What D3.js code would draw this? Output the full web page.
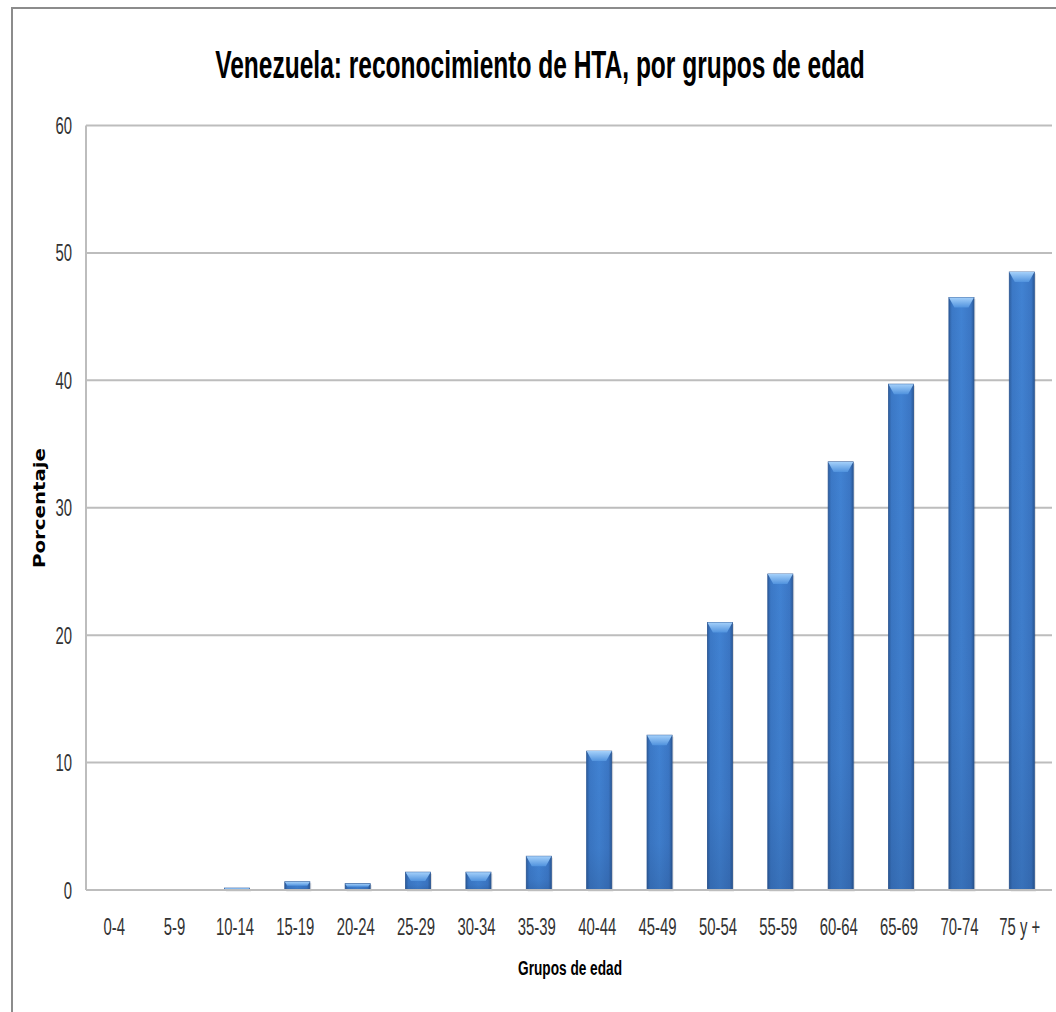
<!DOCTYPE html>
<html>
<head>
<meta charset="utf-8">
<script src="https://cdn.jsdelivr.net/npm/d3@7"></script>
<style>
  html, body { margin: 0; padding: 0; background: #fff; }
  svg { display: block; }
</style>
</head>
<body>
<svg id="chart" width="1056" height="1012"></svg>
<script>
const categories = ["0-4","5-9","10-14","15-19","20-24","25-29","30-34","35-39","40-44","45-49","50-54","55-59","60-64","65-69","70-74","75 y +"];
const values = [0, 0, 0.15, 0.65, 0.5, 1.4, 1.4, 2.65, 10.9, 12.15, 21.0, 24.8, 33.6, 39.7, 46.5, 48.5];
const yTicks = [0, 10, 20, 30, 40, 50, 60];
const titleText = "Venezuela: reconocimiento de HTA, por grupos de edad";
const xTitle = "Grupos de edad";
const yTitle = "Porcentaje";

const svg = d3.select("#chart");
const plot = {left: 86, right: 1052, top: 125.5, bottom: 890};

// defs
const defs = svg.append("defs");
const gH = defs.append("linearGradient").attr("id", "barH").attr("x1", 0).attr("x2", 1).attr("y1", 0).attr("y2", 0);
gH.append("stop").attr("offset", "0%").attr("stop-color", "#2d5e9f");
gH.append("stop").attr("offset", "12%").attr("stop-color", "#3b78c6");
gH.append("stop").attr("offset", "50%").attr("stop-color", "#4182d2");
gH.append("stop").attr("offset", "88%").attr("stop-color", "#3b76c4");
gH.append("stop").attr("offset", "100%").attr("stop-color", "#2b5a98");
const gV = defs.append("linearGradient").attr("id", "barV").attr("x1", 0).attr("x2", 0).attr("y1", 0).attr("y2", 1);
gV.append("stop").attr("offset", "0%").attr("stop-color", "#1e3f70").attr("stop-opacity", 0);
gV.append("stop").attr("offset", "70%").attr("stop-color", "#1e3f70").attr("stop-opacity", 0.08);
gV.append("stop").attr("offset", "100%").attr("stop-color", "#1e3f70").attr("stop-opacity", 0.25);
const gTop = defs.append("linearGradient").attr("id", "bevel").attr("x1", 0).attr("x2", 0).attr("y1", 0).attr("y2", 1);
gTop.append("stop").attr("offset", "0%").attr("stop-color", "#a4d0fa");
gTop.append("stop").attr("offset", "100%").attr("stop-color", "#5193de");

// outer border
svg.append("rect").attr("x", 12).attr("y", 8).attr("width", 1200).attr("height", 1200)
  .attr("fill", "none").attr("stroke", "#8c8c8c").attr("stroke-width", 2);

const x = d3.scaleBand().domain(categories).range([plot.left, plot.right]).paddingInner(0.585).paddingOuter(0.2925);
const y = d3.scaleLinear().domain([0, 60]).range([plot.bottom, plot.top]);

// gridlines
svg.append("g").selectAll("line").data(yTicks.filter(d => d > 0)).join("line")
  .attr("x1", plot.left).attr("x2", plot.right)
  .attr("y1", d => y(d)).attr("y2", d => y(d))
  .attr("stroke", "#bdbdbd").attr("stroke-width", 2);

// y axis line
svg.append("line").attr("x1", plot.left).attr("x2", plot.left).attr("y1", plot.top).attr("y2", plot.bottom)
  .attr("stroke", "#bdbdbd").attr("stroke-width", 2);

// bars
const bars = svg.append("g").selectAll("g").data(values.map((v, i) => ({c: categories[i], v}))).join("g")
  .attr("transform", d => `translate(${x(d.c)},0)`);
const bw = x.bandwidth();
bars.filter(d => d.v > 0).each(function(d) {
  const g = d3.select(this);
  const top = y(d.v), h = plot.bottom - top;
  g.append("rect").attr("x", 1.5).attr("y", top + 1.5).attr("width", bw).attr("height", h)
    .attr("fill", "#000").attr("opacity", 0.12);
  g.append("rect").attr("x", 0).attr("y", top).attr("width", bw).attr("height", h)
    .attr("fill", "url(#barH)").attr("stroke", "#2a5592").attr("stroke-width", 0.8);
  g.append("rect").attr("x", 0).attr("y", top).attr("width", bw).attr("height", h)
    .attr("fill", "url(#barV)");
  const bh = Math.min(10, h * 0.5);
  const inset = Math.min(5.5, bh * 0.6);
  g.append("path")
    .attr("d", `M0,${top} L${bw},${top} L${bw - inset},${top + bh} L${inset},${top + bh} Z`)
    .attr("fill", "url(#bevel)");
});

// x axis line
svg.append("line").attr("x1", plot.left).attr("x2", plot.right).attr("y1", plot.bottom).attr("y2", plot.bottom)
  .attr("stroke", "#bdbdbd").attr("stroke-width", 2);

// helper: squeeze text horizontally to a given width
function squeezeTo(textSel, width) {
  const n = textSel.node();
  const natural = n.getComputedTextLength();
  const s = width / natural;
  textSel.attr("transform", `scale(${s},1)`);
}

const FONT = "Liberation Sans, Arial, sans-serif";
const sx = 0.62;

// y tick labels
svg.append("g").selectAll("g").data(yTicks).join("g")
  .attr("transform", d => `translate(72,${y(d) + 8.5})`)
  .append("text").attr("transform", `scale(${sx},1)`)
  .attr("text-anchor", "end").attr("font-family", FONT)
  .attr("font-size", 24).attr("fill", "#333").text(d => d);

// x tick labels
svg.append("g").selectAll("g").data(categories).join("g")
  .attr("transform", d => `translate(${x(d) + bw / 2 - 2},935)`)
  .append("text").attr("transform", `scale(${sx},1)`)
  .attr("text-anchor", "middle").attr("font-family", FONT)
  .attr("font-size", 24).attr("fill", "#333").text(d => d);

// title
const tG = svg.append("g").attr("transform", "translate(540,78)");
const tT = tG.append("text").attr("text-anchor", "middle")
  .attr("font-family", FONT).attr("font-weight", "bold")
  .attr("font-size", 38).attr("fill", "#000").text(titleText);
squeezeTo(tT, 650);

// x axis title
const xG = svg.append("g").attr("transform", "translate(570,975)");
const xT = xG.append("text").attr("text-anchor", "middle")
  .attr("font-family", FONT).attr("font-weight", "bold")
  .attr("font-size", 21).attr("fill", "#000").text(xTitle);
squeezeTo(xT, 104);

// y axis title
const yG = svg.append("g").attr("transform", "translate(45,508) rotate(-90)");
const yT = yG.append("text").attr("text-anchor", "middle")
  .attr("font-family", "DejaVu Sans, Verdana, sans-serif").attr("font-weight", "bold")
  .attr("font-size", 15).attr("fill", "#000").text(yTitle);
squeezeTo(yT, 120);
</script>
</body>
</html>
